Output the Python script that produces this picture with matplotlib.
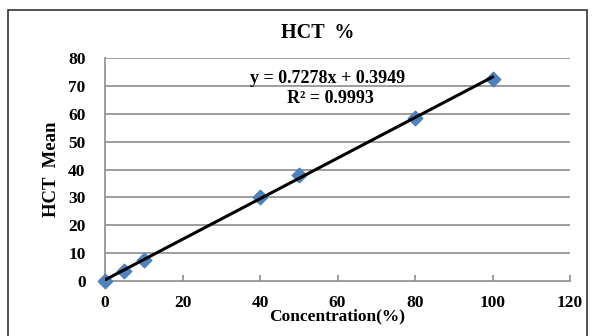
import matplotlib
matplotlib.use('Agg')
import matplotlib.pyplot as plt
from matplotlib.patches import Rectangle

# measured HCT means against dilution concentration
concentration = [0, 5, 10, 40, 50, 80, 100]
hct_mean = [0, 3.6, 7.4, 30.2, 37.9, 58.6, 72.3]

slope = 0.7278
intercept = 0.3949
r_squared = 0.9993

x_ticks = [0, 20, 40, 60, 80, 100, 120]
y_ticks = [0, 10, 20, 30, 40, 50, 60, 70, 80]

plt.rcParams['font.family'] = ['Liberation Serif', 'DejaVu Serif']
plt.rcParams['font.weight'] = 'bold'

fig = plt.figure(figsize=(5.96, 3.36), dpi=100)
fig.patches.append(Rectangle((8 / 596, -0.02), 579 / 596, 1.02 - 10 / 336,
                             transform=fig.transFigure, fill=False,
                             edgecolor='#333333', linewidth=1.2))

ax = fig.add_axes([105 / 596, 55 / 336, 465 / 596, 223 / 336])

for y in y_ticks[1:]:
    ax.axhline(y, color='#8c8c8c', linewidth=1.2, zorder=1)

ax.scatter(concentration, hct_mean, marker='D', s=55, color='#4f81bd',
           edgecolors='#4f81bd', zorder=3, clip_on=False)

fit_x = [0, 100]
fit_y = [slope * v + intercept for v in fit_x]
ax.plot(fit_x, fit_y, color='black', linewidth=2.2, zorder=4)

ax.set_xlim(0, 120)
ax.set_ylim(0, 80)
ax.set_xticks(x_ticks)
ax.set_yticks(y_ticks)

for side in ['top', 'right']:
    ax.spines[side].set_visible(False)
ax.spines['left'].set_color('#8c8c8c')
ax.spines['bottom'].set_color('#8c8c8c')
ax.spines['left'].set_linewidth(1.2)
ax.spines['bottom'].set_linewidth(1.2)

ax.tick_params(axis='x', direction='in', length=4, width=1.2, color='#8c8c8c',
               pad=10, labelsize=12.5)
ax.tick_params(axis='y', length=0, pad=14, labelsize=12.5)

fig.text(318 / 596, 1 - 33 / 336, 'HCT  %', ha='center', va='center',
         fontsize=14.5, fontweight='bold')
ax.set_xlabel('Concentration(%)', fontsize=12.5, fontweight='bold', labelpad=-2)
ax.set_ylabel('HCT  Mean', fontsize=13.5, fontweight='bold', labelpad=6)

ax.text(57.5, 72.8, 'y = %.4fx + %.4f' % (slope, intercept), ha='center', va='center',
        fontsize=13, fontweight='bold')
ax.text(58.1, 65.6, 'R² = %.4f' % r_squared, ha='center', va='center',
        fontsize=13, fontweight='bold')

fig.savefig('out.png', dpi=100)
